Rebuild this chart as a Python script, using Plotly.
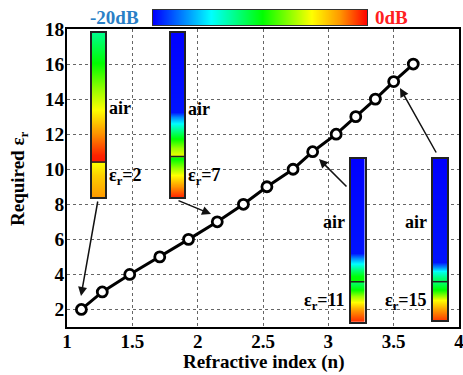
import plotly.graph_objects as go

W, H = 463, 375

# ---- main data ----
eps_r = [2, 3, 4, 5, 6, 7, 8, 9, 10, 11, 12, 13, 14, 15, 16]
n_index = [1.11, 1.27, 1.48, 1.71, 1.93, 2.15, 2.35, 2.53, 2.73, 2.88, 3.06, 3.21, 3.36, 3.50, 3.65]

x_ticks = [1, 1.5, 2, 2.5, 3, 3.5, 4]
y_ticks = [2, 4, 6, 8, 10, 12, 14, 16, 18]
x_title = "Refractive index (n)"
y_title = "Required ε<sub>r</sub>"

# ---- inset field profiles (position along strip: 0 bottom -> 1 top, level in dB) ----
inset_labels = ["2", "7", "11", "15"]
prof1_pos = [0.0, 0.134, 0.207, 0.220, 0.256, 0.409, 0.530, 0.652, 0.805, 1.0]
prof1_db = [-2.6, -4.0, -5.2, -0.4, -0.6, -2.8, -5.2, -7.0, -9.6, -12.4]
prof2_pos = [0.0, 0.073, 0.134, 0.177, 0.238, 0.256, 0.299, 0.360, 0.439, 0.488, 0.518, 1.0]
prof2_db = [-0.6, -2.8, -5.2, -7.0, -10.0, -5.6, -7.0, -10.0, -14.0, -17.0, -19.6, -20.0]
prof3_pos = [0.0, 0.072, 0.121, 0.158, 0.195, 0.238, 0.253, 0.281, 0.318, 0.348, 0.392, 0.422, 1.0]
prof3_db = [-0.6, -2.6, -5.2, -7.0, -9.6, -11.6, -9.6, -10.0, -12.0, -14.0, -17.0, -19.6, -20.0]
prof4_pos = [0.0, 0.062, 0.124, 0.186, 0.230, 0.245, 0.261, 0.298, 0.329, 0.360, 1.0]
prof4_db = [-1.0, -2.6, -5.2, -9.6, -11.6, -11.6, -12.0, -14.0, -17.0, -19.6, -20.0]
interface_pos = [0.213, 0.247, 0.246, 0.238]
profiles = [(prof1_pos, prof1_db), (prof2_pos, prof2_db), (prof3_pos, prof3_db), (prof4_pos, prof4_db)]

db_range = [-20, 0]
scale_labels = ["-20dB", "0dB"]

colorscale = [[0.0, "#0000ff"], [0.27, "#00ffff"], [0.51, "#00ff00"],
              [0.74, "#ffff00"], [0.87, "#ff9900"], [1.0, "#ff0000"]]

FONT = "Liberation Serif"

# pixel layout helpers
def px_x(p):
    return p / W

def px_y(p):
    return 1 - p / H

fig = go.Figure()

fig.add_trace(go.Scatter(
    x=n_index, y=eps_r, mode="lines+markers",
    line=dict(color="black", width=3),
    marker=dict(symbol="circle", size=10, color="white", line=dict(color="black", width=2.8)),
    xaxis="x", yaxis="y", showlegend=False, cliponaxis=False,
))

# inset strip boxes in pixels: (left, top, right, bottom)
inset_boxes = [(92, 33, 105, 197), (171, 33, 184, 197), (351, 159, 364.5, 321.7), (433, 159, 447, 320)]

hidden = dict(showgrid=False, zeroline=False, showticklabels=False, ticks="", automargin=False,
              showline=True, mirror=True, linecolor="#222", linewidth=1.6, range=[0, 1])

layout_axes = {}
shapes = []
annotations = []
for i, ((pos, db), box) in enumerate(zip(profiles, inset_boxes)):
    k = i + 2
    xa, ya = f"x{k}", f"y{k}"
    fig.add_trace(go.Heatmap(
        x=[0, 1], y=pos, z=[[v, v] for v in db],
        zmin=db_range[0], zmax=db_range[1], colorscale=colorscale,
        zsmooth="best", showscale=False, xaxis=xa, yaxis=ya, hoverinfo="skip",
    ))
    l, t, r, b = box
    layout_axes[f"xaxis{k}"] = dict(domain=[px_x(l), px_x(r)], anchor=ya, **hidden)
    layout_axes[f"yaxis{k}"] = dict(domain=[px_y(b), px_y(t)], anchor=xa, **hidden)
    shapes.append(dict(type="line", xref=xa, yref=ya, x0=0, x1=1,
                       y0=interface_pos[i], y1=interface_pos[i],
                       line=dict(color="#222", width=1.5)))

# colour scale strip on top
fig.add_trace(go.Heatmap(
    x=[0, 1], y=[0, 1], z=[db_range, db_range],
    zmin=db_range[0], zmax=db_range[1], colorscale=colorscale,
    zsmooth="best", showscale=False, xaxis="x6", yaxis="y6", hoverinfo="skip",
))
cb_style = dict(hidden, linecolor="#333", linewidth=1.4)
layout_axes["xaxis6"] = dict(domain=[px_x(153), px_x(367)], anchor="y6", **cb_style)
layout_axes["yaxis6"] = dict(domain=[px_y(25), px_y(10)], anchor="x6", **cb_style)

tf = dict(family=FONT, size=18, color="black")

# inset labels
label_specs = [
    # (axis index, side, y of "air", y of eps label)
    (2, "right", 0.543, 0.125),
    (3, "right", 0.537, 0.122),
    (4, "left", 0.615, 0.127),
    (5, "left", 0.610, 0.118),
]
for (k, side, y_air, y_eps), lab in zip(label_specs, inset_labels):
    if side == "right":
        xx, anc, sh = 1, "left", 2
    else:
        xx, anc, sh = 0, "right", -4
    annotations.append(dict(text="<b>air</b>", xref=f"x{k} domain", yref=f"y{k} domain",
                            x=xx, y=y_air, xanchor=anc, yanchor="middle", xshift=sh,
                            showarrow=False, font=tf))
    annotations.append(dict(text=f"<b>ε<sub>r</sub>={lab}</b>", xref=f"x{k} domain", yref=f"y{k} domain",
                            x=xx, y=y_eps, xanchor=anc, yanchor="middle", xshift=sh,
                            showarrow=False, font=tf))

# scale labels
annotations.append(dict(text=f"<b>{scale_labels[0]}</b>", xref="paper", yref="paper",
                        x=px_x(141), y=px_y(17), xanchor="right", yanchor="middle",
                        showarrow=False, font=dict(family=FONT, size=19, color="#2a7fc6")))
annotations.append(dict(text=f"<b>{scale_labels[1]}</b>", xref="paper", yref="paper",
                        x=px_x(373), y=px_y(17), xanchor="left", yanchor="middle",
                        showarrow=False, font=dict(family=FONT, size=19, color="#ff2020")))

# axis titles
annotations.append(dict(text=f"<b>{x_title}</b>", xref="paper", yref="paper",
                        x=px_x(263), y=px_y(362), xanchor="center", yanchor="middle",
                        showarrow=False, font=dict(family=FONT, size=19, color="black")))
annotations.append(dict(text=f"<b>{y_title}</b>", xref="paper", yref="paper", textangle=-90,
                        x=px_x(19), y=px_y(179), xanchor="center", yanchor="middle",
                        showarrow=False, font=dict(family=FONT, size=19, color="black")))

# arrows (head, tail) in pixels
arrows = [((81, 296), (98, 200)), ((211, 214), (177, 200)), ((319, 159), (348, 188)), ((400, 88), (437, 154))]
for (hx, hy), (tx, ty) in arrows:
    annotations.append(dict(text="", xref="paper", yref="paper", x=px_x(hx), y=px_y(hy),
                            ax=tx - hx, ay=ty - hy, showarrow=True, arrowhead=2,
                            arrowsize=1.2, arrowwidth=1.5, arrowcolor="#111"))

fig.update_layout(
    width=W, height=H,
    margin=dict(l=0, r=0, t=0, b=0, autoexpand=False),
    paper_bgcolor="white", plot_bgcolor="white",
    showlegend=False,
    xaxis=dict(domain=[px_x(67), px_x(459)], anchor="y", range=[1, 4], automargin=False,
               tickvals=x_ticks, ticks="", showgrid=True, gridcolor="#666", griddash="dot", gridwidth=1,
               zeroline=False, showline=True, mirror=True, linecolor="black", linewidth=1.5,
               ticklabeloverflow="allow", ticklabelstandoff=-4,
               tickfont=dict(family=FONT, size=19, color="black", weight="bold")),
    yaxis=dict(domain=[px_y(327), px_y(29)], anchor="x", range=[1, 18], automargin=False,
               tickvals=y_ticks, ticks="", showgrid=True, gridcolor="#666", griddash="dot", gridwidth=1,
               zeroline=False, showline=True, mirror=True, linecolor="black", linewidth=1.5,
               ticklabelstandoff=-3,
               tickfont=dict(family=FONT, size=19.5, color="black", weight="bold")),
    shapes=shapes,
    annotations=annotations,
    **layout_axes,
)

fig.write_html("out.html", config={"displayModeBar": False},
               post_script="document.body.style.margin='0px';document.body.style.overflow='hidden';")
